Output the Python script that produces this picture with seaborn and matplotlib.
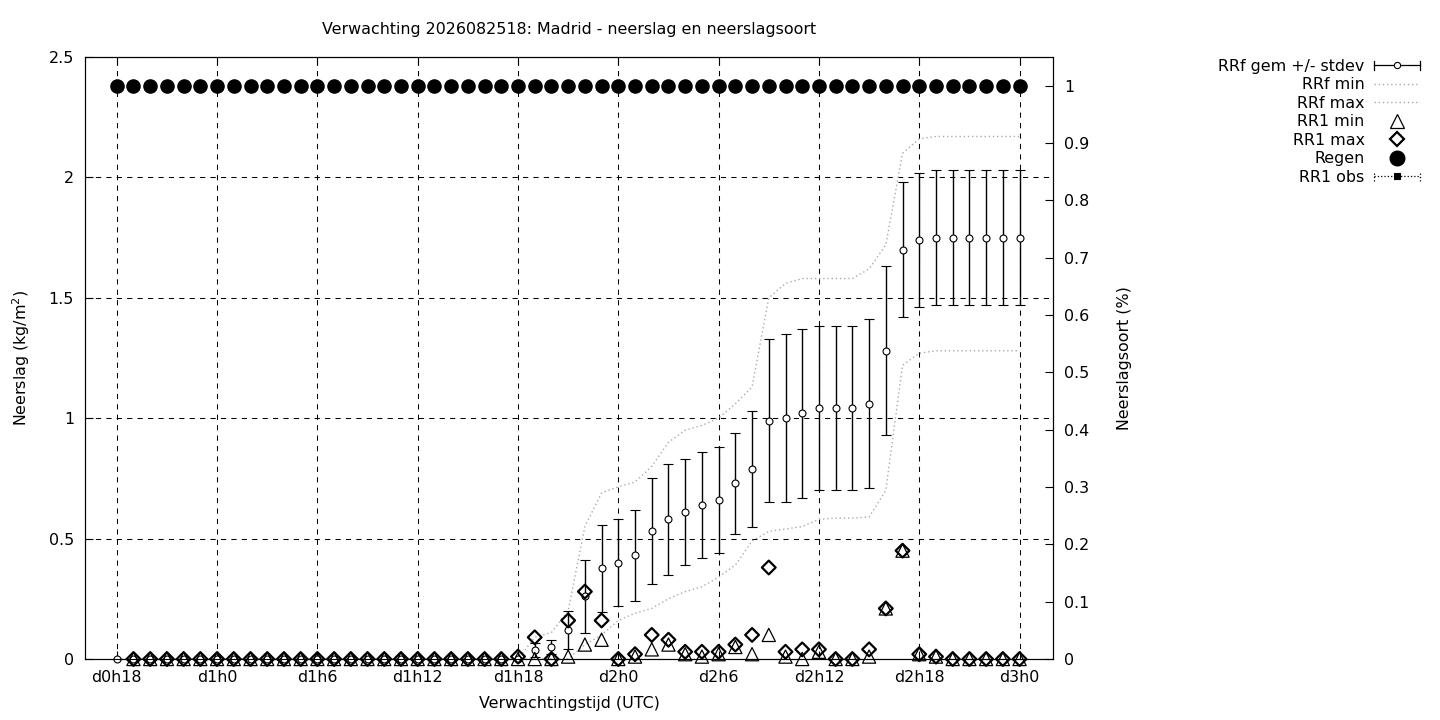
import numpy as np
import pandas as pd
import matplotlib
matplotlib.use("Agg")
import matplotlib.pyplot as plt
import seaborn as sns
from matplotlib.lines import Line2D
from matplotlib.legend_handler import HandlerBase

# ---------------- data ----------------
hours = list(range(55))  # hours since d0h18
tick_hours = [0, 6, 12, 18, 24, 30, 36, 42, 48, 54]
tick_labels = ["d0h18", "d1h0", "d1h6", "d1h12", "d1h18",
               "d2h0", "d2h6", "d2h12", "d2h18", "d3h0"]

rrf_mean = [0.0] * 25 + [0.037, 0.05, 0.12, 0.26, 0.377, 0.40, 0.43, 0.53, 0.58,
                         0.61, 0.64, 0.66, 0.73, 0.79, 0.99, 1.00, 1.02, 1.043,
                         1.043, 1.043, 1.06, 1.28, 1.70, 1.74, 1.75, 1.75, 1.75,
                         1.75, 1.75, 1.75]
rrf_std = [0.0] * 25 + [0.03, 0.03, 0.08, 0.15, 0.18, 0.18, 0.19, 0.22, 0.23,
                        0.22, 0.22, 0.22, 0.21, 0.24, 0.34, 0.35, 0.35, 0.34,
                        0.34, 0.34, 0.35, 0.35, 0.28, 0.28, 0.28, 0.28, 0.28,
                        0.28, 0.28, 0.28]
rrf_min = [0.0] * 28 + [0.06, 0.10, 0.16, 0.19, 0.21, 0.25, 0.28, 0.30, 0.34,
                        0.39, 0.49, 0.53, 0.54, 0.55, 0.58, 0.585, 0.585, 0.59,
                        0.70, 1.22, 1.27, 1.28, 1.28, 1.28, 1.28, 1.28, 1.28]
rrf_max = [0.0] * 25 + [0.09, 0.11, 0.20, 0.55, 0.69, 0.715, 0.735, 0.80, 0.90,
                        0.95, 0.97, 1.00, 1.06, 1.13, 1.50, 1.56, 1.58, 1.58,
                        1.58, 1.58, 1.62, 1.72, 2.10, 2.16, 2.17, 2.17, 2.17,
                        2.17, 2.17, 2.17]

rr1_hours = list(range(1, 55))
rr1_min = [0.0] * 26 + [0.01, 0.06, 0.08, 0.0, 0.01, 0.04, 0.06, 0.02, 0.01,
                        0.02, 0.05, 0.02, 0.10, 0.01, 0.0, 0.03, 0.0, 0.0, 0.01,
                        0.21, 0.45, 0.02, 0.01, 0.0, 0.0, 0.0, 0.0, 0.0]
rr1_max = [0.0] * 23 + [0.01, 0.09, 0.0, 0.16, 0.28, 0.16, 0.0, 0.02, 0.10, 0.08,
                        0.03, 0.03, 0.03, 0.06, 0.10, 0.38, 0.03, 0.04, 0.04,
                        0.0, 0.0, 0.04, 0.21, 0.45, 0.02, 0.01, 0.0, 0.0, 0.0,
                        0.0, 0.0]
regen = [1.0] * 55

df = pd.DataFrame({"h": hours, "mean": rrf_mean, "std": rrf_std,
                   "rmin": rrf_min, "rmax": rrf_max, "regen": regen})
df1 = pd.DataFrame({"h": rr1_hours, "rr1min": rr1_min, "rr1max": rr1_max})

# ---------------- style ----------------
plt.rcParams["font.family"] = ["DejaVu Sans"]
FS = 11.4
W, H = 1440, 720
fig = plt.figure(figsize=(W / 100, H / 100), dpi=100)
ax = fig.add_axes([85 / W, 1 - 659 / H, (1053 - 85) / W, (659 - 57) / H])

ax.errorbar(df["h"], df["mean"], yerr=df["std"], fmt="o", color="black",
            mfc="white", mec="black", ms=5, mew=0.8, elinewidth=1.0,
            capsize=3.3, capthick=1.0, zorder=3, clip_on=False)

dot = (0, (1, 2))
sns.lineplot(data=df, x="h", y="rmin", ax=ax, color="#aaaaaa", lw=1,
             linestyle=dot, legend=False, zorder=2)
sns.lineplot(data=df, x="h", y="rmax", ax=ax, color="#aaaaaa", lw=1,
             linestyle=dot, legend=False, zorder=2)

sns.scatterplot(data=df1, x="h", y="rr1min", ax=ax, marker="^", s=9.5 ** 2,
                facecolors="none", edgecolors="black", linewidth=0.9,
                zorder=4, clip_on=False, legend=False)
sns.scatterplot(data=df1, x="h", y="rr1max", ax=ax, marker="D", s=7.0 ** 2,
                facecolors="none", edgecolors="black", linewidth=1.6,
                zorder=5, clip_on=False, legend=False)

ax.set_xlim(-1.9, 56.0)
ax.set_ylim(0, 2.5)
ax.set_xticks(tick_hours)
ax.set_xticklabels(tick_labels)
ax.set_yticks([0, 0.5, 1, 1.5, 2, 2.5])
ax.set_yticklabels(["0", "0.5", "1", "1.5", "2", "2.5"])
ax.grid(True, color="black", linestyle=(0, (5, 5)), lw=0.75)
ax.tick_params(axis="both", direction="in", length=6, width=0.8,
               labelsize=FS, pad=8, top=True, right=False)
ax.set_xlabel("Verwachtingstijd (UTC)", fontsize=FS, labelpad=8)
ax.set_ylabel("Neerslag (kg/m$^2$)", fontsize=FS, labelpad=12)
ax.set_title("Verwachting 2026082518: Madrid - neerslag en neerslagsoort",
             fontsize=FS, pad=16.5)
for s in ax.spines.values():
    s.set_linewidth(0.8)

ax2 = ax.twinx()
sns.scatterplot(data=df, x="h", y="regen", ax=ax2, marker="o", s=10.5 ** 2,
                color="black", edgecolor="black", linewidth=0, legend=False,
                zorder=5)
ax2.set_ylim(0, 1.05)
r_ticks = [round(0.1 * i, 1) for i in range(11)]
ax2.set_yticks(r_ticks)
ax2.set_yticklabels(["0" if t == 0 else ("1" if t == 1 else f"{t:g}") for t in r_ticks])
ax2.tick_params(axis="y", direction="in", length=6, width=0.8,
                labelsize=FS, pad=8)
ax2.set_ylabel("Neerslagsoort (%)", fontsize=FS, labelpad=20)
ax2.set_xlim(ax.get_xlim())
for s in ax2.spines.values():
    s.set_linewidth(0.8)


# ---------------- legend ----------------
class HErr(HandlerBase):
    def __init__(self, ls="-", marker="o", mfc="white", ms=4.5):
        super().__init__()
        self.ls, self.marker, self.mfc, self.ms = ls, marker, mfc, ms

    def create_artists(self, legend, orig_handle, xdescent, ydescent,
                       width, height, fontsize, trans):
        y = height / 2 - ydescent
        x0 = -xdescent
        x1 = x0 + width
        c = 3.3
        arts = [
            Line2D([x0, x1], [y, y], color="black", lw=0.9, ls=self.ls),
            Line2D([x0, x0], [y - c, y + c], color="black", lw=0.9, ls=self.ls),
            Line2D([x1, x1], [y - c, y + c], color="black", lw=0.9, ls=self.ls),
            Line2D([(x0 + x1) / 2], [y], marker=self.marker, ls="none",
                   mfc=self.mfc, mec="black", ms=self.ms, mew=0.8),
        ]
        for a in arts:
            a.set_transform(trans)
        return arts


h_err = Line2D([], [])
h_min = Line2D([], [], color="#aaaaaa", lw=1, linestyle=dot)
h_max = Line2D([], [], color="#aaaaaa", lw=1, linestyle=dot)
h_tri = Line2D([], [], ls="none", marker="^", ms=9.5, mfc="none", mec="black", mew=0.9)
h_dia = Line2D([], [], ls="none", marker="D", ms=7.0, mfc="none", mec="black", mew=1.6)
h_reg = Line2D([], [], ls="none", marker="o", ms=10.5, mfc="black", mec="black")
h_obs = Line2D([], [])

fig.legend([h_err, h_min, h_max, h_tri, h_dia, h_reg, h_obs],
           ["RRf gem +/- stdev", "RRf min", "RRf max", "RR1 min", "RR1 max",
            "Regen", "RR1 obs"],
           handler_map={h_err: HErr(), h_obs: HErr(ls=":", marker="s", mfc="black", ms=4.5)},
           loc="upper right", bbox_to_anchor=(1420 / W, 1 - 59 / H),
           frameon=False, markerfirst=False, fontsize=FS, numpoints=1,
           handlelength=2.9, handletextpad=0.6, labelspacing=0.22,
           borderpad=0, borderaxespad=0)

fig.savefig("out.png", dpi=100)
